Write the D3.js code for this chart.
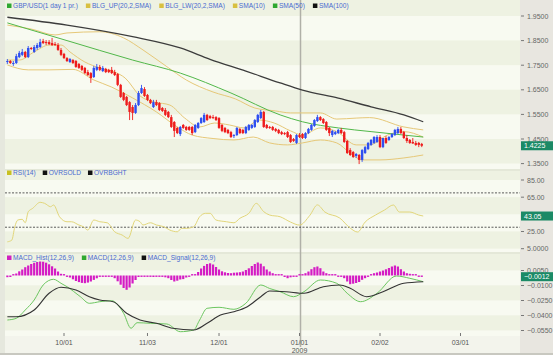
<!DOCTYPE html>
<html><head><meta charset="utf-8">
<script src="https://cdn.jsdelivr.net/npm/d3@7"></script>
<style>body{margin:0;background:#fff}svg{display:block}</style>
</head><body><svg id="c" width="553" height="355"></svg>
<script>
// ---------------- DATA ----------------
const firstIdx = -19; // bar index of first candle (0 = 10/01)
const openP = [1.763,1.767,1.755,1.759,1.783,1.792,1.804,1.783,1.820,1.804,1.820,1.824,1.848,1.844,1.844,1.840,1.836,1.832,1.812,
 1.796,1.779,1.763,1.771,1.767,1.755,1.747,1.739,1.722,1.718,
 1.702,1.731,1.743,1.726,1.735,1.731,1.731,1.722,1.714,1.670,
 1.637,1.621,1.600,1.580,1.556,1.588,1.637,1.653,1.629,1.609,
 1.580,1.600,1.596,1.576,1.568,1.560,1.539,1.519,1.495,1.470,
 1.507,1.499,1.499,1.499,1.478,1.495,1.515,1.519,1.548,1.543,
 1.539,1.539,1.535,1.507,1.495,1.487,1.478,1.462,1.466,1.491,
 1.487,1.474,1.487,1.495,1.499,1.519,1.535,1.560,1.507,1.499,
 1.499,1.491,1.487,1.478,1.474,1.478,1.466,1.450,1.434,1.466,
 1.470,1.454,1.474,1.487,1.503,1.523,1.539,1.531,1.519,1.495,
 1.466,1.470,1.474,1.487,1.478,1.442,1.405,1.397,1.381,1.385,
 1.365,1.393,1.409,1.426,1.434,1.438,1.458,1.417,1.454,1.446,
 1.458,1.466,1.474,1.491,1.478,1.454,1.446,1.438,1.434,1.434,
 1.430];
const highP = [1.775,1.771,1.767,1.796,1.808,1.816,1.808,1.828,1.824,1.832,1.840,1.857,1.857,1.852,1.852,1.861,1.844,1.840,1.820,
 1.800,1.783,1.779,1.775,1.771,1.759,1.751,1.743,1.731,1.722,
 1.747,1.755,1.751,1.747,1.739,1.735,1.743,1.731,1.718,1.674,
 1.641,1.625,1.604,1.588,1.596,1.645,1.670,1.661,1.633,1.613,
 1.609,1.609,1.600,1.580,1.576,1.564,1.548,1.523,1.499,1.503,
 1.511,1.503,1.503,1.503,1.511,1.519,1.539,1.556,1.552,1.548,
 1.548,1.543,1.539,1.511,1.499,1.491,1.483,1.470,1.499,1.495,
 1.491,1.503,1.511,1.511,1.531,1.552,1.568,1.564,1.511,1.503,
 1.503,1.495,1.491,1.483,1.478,1.483,1.470,1.454,1.470,1.474,
 1.474,1.478,1.495,1.511,1.531,1.548,1.543,1.535,1.523,1.499,
 1.487,1.483,1.491,1.495,1.483,1.446,1.413,1.401,1.393,1.389,
 1.409,1.422,1.438,1.450,1.462,1.466,1.466,1.454,1.462,1.462,
 1.474,1.491,1.499,1.499,1.483,1.466,1.450,1.454,1.442,1.438,
 1.434];
const lowP = [1.755,1.755,1.747,1.755,1.779,1.787,1.779,1.779,1.812,1.800,1.812,1.820,1.836,1.832,1.832,1.828,1.828,1.808,1.787,
 1.775,1.763,1.759,1.755,1.739,1.735,1.726,1.714,1.706,1.678,
 1.698,1.726,1.726,1.722,1.718,1.718,1.714,1.706,1.665,1.617,
 1.604,1.584,1.527,1.527,1.552,1.584,1.633,1.621,1.604,1.592,
 1.576,1.584,1.564,1.560,1.543,1.535,1.495,1.458,1.470,1.462,
 1.491,1.483,1.483,1.466,1.474,1.491,1.511,1.515,1.523,1.531,
 1.531,1.523,1.491,1.478,1.474,1.470,1.454,1.454,1.462,1.470,
 1.470,1.470,1.483,1.491,1.495,1.515,1.531,1.495,1.491,1.491,
 1.483,1.478,1.470,1.466,1.466,1.454,1.434,1.438,1.430,1.454,
 1.450,1.450,1.470,1.483,1.499,1.519,1.523,1.511,1.483,1.462,
 1.458,1.466,1.470,1.470,1.434,1.389,1.381,1.373,1.373,1.348,
 1.357,1.389,1.405,1.422,1.430,1.434,1.413,1.413,1.430,1.442,
 1.454,1.462,1.470,1.470,1.450,1.434,1.430,1.430,1.422,1.417,
 1.417];
const closeP = [1.767,1.759,1.759,1.787,1.800,1.804,1.783,1.820,1.816,1.824,1.832,1.844,1.840,1.840,1.836,1.832,1.832,1.812,1.792,
 1.779,1.767,1.775,1.759,1.743,1.739,1.731,1.718,1.710,1.698,
 1.739,1.743,1.731,1.739,1.722,1.722,1.718,1.710,1.670,1.621,
 1.609,1.588,1.560,1.556,1.588,1.637,1.657,1.625,1.609,1.596,
 1.600,1.588,1.568,1.564,1.548,1.539,1.499,1.483,1.474,1.499,
 1.495,1.487,1.487,1.474,1.507,1.515,1.535,1.548,1.527,1.535,
 1.535,1.527,1.495,1.483,1.478,1.474,1.458,1.466,1.495,1.474,
 1.474,1.499,1.507,1.507,1.527,1.548,1.560,1.499,1.495,1.495,
 1.487,1.483,1.474,1.470,1.470,1.458,1.438,1.442,1.466,1.458,
 1.454,1.474,1.491,1.507,1.527,1.539,1.527,1.515,1.487,1.474,
 1.483,1.478,1.487,1.474,1.438,1.393,1.385,1.377,1.389,1.365,
 1.405,1.417,1.434,1.446,1.458,1.458,1.417,1.454,1.434,1.458,
 1.470,1.487,1.491,1.474,1.454,1.442,1.434,1.432,1.426,1.426,
 1.4225];
const histV = [-0.0017,-0.0015,0.0005,0.0020,0.0042,0.0060,0.0083,0.0100,0.0115,0.0127,0.0135,0.0140,0.0138,0.0128,0.0112,0.0092,0.0070,0.0040,0.0017,
 0.0003,-0.0003,-0.0020,-0.0038,-0.0055,-0.0066,-0.0074,-0.0077,-0.0071,-0.0060,
 -0.0044,-0.0028,-0.0012,-0.0004,-0.0003,-0.0002,-0.0008,-0.0027,-0.0058,-0.0092,
 -0.0125,-0.0143,-0.0120,-0.0080,-0.0045,-0.0015,-0.0010,-0.0012,-0.0010,-0.0013,
 -0.0015,-0.0012,-0.0010,-0.0014,-0.0018,-0.0027,-0.0045,-0.0060,-0.0052,-0.0040,
 -0.0036,-0.0020,-0.0005,0.0002,0.0003,0.0035,0.0070,0.0096,0.0115,0.0122,
 0.0110,0.0085,0.0060,0.0042,0.0032,0.0025,0.0023,0.0028,0.0030,0.0033,
 0.0040,0.0055,0.0072,0.0095,0.0115,0.0130,0.0118,0.0092,0.0060,0.0040,
 0.0023,0.0013,0.0003,0.0002,-0.0015,-0.0027,-0.0018,-0.0010,-0.0004,0.0002,
 0.0008,0.0023,0.0040,0.0063,0.0083,0.0090,0.0073,0.0040,0.0023,0.0008,
 0.0003,0.0002,-0.0002,-0.0005,-0.0027,-0.0060,-0.0087,-0.0082,-0.0075,-0.0065,
 -0.0043,-0.0027,-0.0010,0.0013,0.0023,0.0030,0.0040,0.0050,0.0062,0.0075,
 0.0090,0.0100,0.0090,0.0063,0.0040,0.0023,0.0017,0.0008,0.0003,-0.0005,
 -0.0005];
// indicator lines sampled at bar indices
const sma100I = [-19,1,23,39,49,61,72.5,80,92,103,114,120.5];
const sma100V = [1.945,1.913,1.866,1.820,1.774,1.726,1.678,1.649,1.616,1.581,1.548,1.520];
const sma50I = [-19,1,23,39,56,72.5,80,92,103,114,120.5];
const sma50V = [1.922,1.850,1.771,1.718,1.637,1.548,1.520,1.495,1.480,1.466,1.458];
const bbUpI = [-19,-11,-3,1,12,20,26.5,34.5,41,50,57.5,64,71,76,86,91.5,98,102.5,114,120.5];
const bbUpV = [1.913,1.897,1.873,1.881,1.886,1.861,1.812,1.744,1.690,1.641,1.613,1.576,1.564,1.556,1.556,1.531,1.535,1.537,1.499,1.487];
const bbLwI = [-19,-12,-5,3,10,16,23,31,38,43,50,57,63.5,69,75,80,86,91.5,96,100,106,114,120.5];
const bbLwV = [1.751,1.731,1.731,1.733,1.690,1.661,1.617,1.560,1.499,1.466,1.452,1.446,1.458,1.434,1.426,1.434,1.446,1.434,1.393,1.365,1.365,1.373,1.385];
const sma10I = [-19,-15,-10,-5,-1,2,7,12,17,20.5,25.5,30.5,35.5,40.5,45.5,50.5,55.5,60.5,65.5,70.5,76,80,86,91.5,98,102.5,108.5,114,120.5];
const sma10V = [1.771,1.771,1.804,1.832,1.832,1.804,1.763,1.739,1.722,1.698,1.625,1.600,1.588,1.535,1.499,1.515,1.507,1.495,1.527,1.515,1.483,1.466,1.495,1.480,1.426,1.426,1.466,1.480,1.458];
const rsiI = [-19,-17.5,-16.5,-15.5,-14,-13,-12,-10.5,-8,-6.5,-4.5,-3.5,-1.5,1,2.5,5,6.5,8,10,12,14.5,17,19.5,21.5,24,25.5,26.5,29,31,33.5,35.5,38,39.5,41,43.5,45.5,47.5,49,51,54.5,57,59,62,64.5,67,69,72.5,76,79,82.5,85,87.5,92.5,96,98.5,101,104.5,107.5,110.5,112.5,116,119,120.5];
const rsiV = [13,15,30.6,38.4,39.2,35.2,48,52,59,57.8,53.9,55.9,42.2,36.4,36.4,32.6,30.6,26.7,38.4,36.4,35.2,24.7,20.9,17,38.4,36.4,32.6,35.2,32.6,30.6,26.7,24.7,28.7,28.7,30.6,42.2,46.2,46.2,38.4,36.4,35.2,40.4,46.2,57.8,48.1,44.2,42.2,36,32.5,44,56,47.7,40.7,29,24.4,36,44.2,50,55.9,47.7,47.7,44.2,43.05];
const macdI = [-19,-16,-13,-10,-7,-3.5,-1,1,5.5,8.5,12,16,20,22.5,24.5,29,34.5,39,43.5,45.5,48,52,57,61,66,69,72.5,77,80.5,86,91.5,95,99.5,105,111.5,116,120.5];
const macdV = [-0.0445,-0.0428,-0.0345,-0.0245,-0.0095,-0.0038,-0.0078,-0.0112,-0.0212,-0.0278,-0.0262,-0.0252,-0.0378,-0.0528,-0.0472,-0.0478,-0.0485,-0.0562,-0.0545,-0.0445,-0.0328,-0.0318,-0.0338,-0.0278,-0.0095,-0.0130,-0.0162,-0.0212,-0.0162,-0.0045,-0.0078,-0.0178,-0.0262,-0.0178,-0.0005,-0.0028,-0.0062];
const sigI = [-19,-16,-10,-5,-1,4,8.5,12,16.5,21,25.5,31,36.5,43.5,48,52.5,57,61.5,66,69,74.5,80.5,87,92.5,96,101.5,107,114,120.5];
const sigV = [-0.0412,-0.0412,-0.0345,-0.0178,-0.0118,-0.0145,-0.0212,-0.0245,-0.0262,-0.0378,-0.0445,-0.0478,-0.0528,-0.0545,-0.0478,-0.0395,-0.0362,-0.0312,-0.0212,-0.0155,-0.0162,-0.0178,-0.0112,-0.0095,-0.0128,-0.0212,-0.0162,-0.0078,-0.0062];
const xTickIdx = [0,28,52,79,106,133];
const xTickLbl = ["10/01","11/03","12/01","01/01","02/02","03/01"];
const yearIdx = 79, yearLbl = "2009";
const priceTicks = [1.95,1.85,1.75,1.65,1.55,1.45,1.35];
const rsiTicks = [85,65,25,5];
const rsiTickLbl = ["85.00","65.00","25.00","5.0000"];
const rsiBands = [85,65,45,25,5];
const rsiLevels = [70,30];
const macdTicks = [0.005,-0.01,-0.025,-0.04,-0.055];
const lastPrice = 1.4225, lastRsi = 43.05, lastMacd = -0.0012;
const legendMain = [["GBP/USD(1 day  1 pr.)","#2fa830"],["BLG_UP(20,2,SMA)","#d8c040"],["BLG_LW(20,2,SMA)","#d8c040"],["SMA(10)","#d8c040"],["SMA(50)","#2fa830"],["SMA(100)","#111"]];
const legendRsi = [["RSI(14)","#c8c020"],["OVRSOLD","#111"],["OVRBGHT","#111"]];
const legendMacd = [["MACD_Hist(12,26,9)","#d020c0"],["MACD(12,26,9)","#2fa830"],["MACD_Signal(12,26,9)","#111"]];

// ---------------- LAYOUT ----------------
const svg = d3.select("#c");
const W = 553, H = 355, L = 5, R = 520;
const FONT = "Liberation Sans, Arial, sans-serif";
const x = d3.scaleLinear().domain([0,106]).range([64,380]);
const yP = d3.scaleLinear().domain([1.35,1.95]).range([163.6,16]);
const yR = d3.scaleLinear().domain([5,85]).range([248.7,180]);
const yM = d3.scaleLinear().domain([-0.055,0.005]).range([330.5,270.5]);

svg.append("rect").attr("width",W).attr("height",H).attr("fill","#f2f4e8");
function stripes(scale, ticks, top, bottom){
  const b = [top].concat(ticks.map(t=>scale(t))).concat([bottom]);
  for(let k=0;k<b.length-1;k++){
    svg.append("rect").attr("x",L).attr("y",b[k]).attr("width",R-L).attr("height",b[k+1]-b[k])
      .attr("fill", k%2===0 ? "#eef2e2" : "#f8faf1");
  }
}
stripes(yP, priceTicks, 0, 170);
stripes(yR, rsiBands, 170, 253);
stripes(yM, macdTicks, 253, 336);
[170,253].forEach(v=>svg.append("rect").attr("x",L).attr("y",v-1).attr("width",R-L).attr("height",2).attr("fill","#e4e8d8"));
svg.append("rect").attr("x",R).attr("y",0).attr("width",W-R).attr("height",H).attr("fill","#e8e6e0");
svg.append("rect").attr("x",0).attr("y",0).attr("width",L).attr("height",H).attr("fill","#e6e8de");
svg.append("rect").attr("x",L).attr("y",336).attr("width",R-L).attr("height",H-336).attr("fill","#f3f4ec");
svg.append("rect").attr("x",0).attr("y",H-2).attr("width",W).attr("height",2).attr("fill","#c8c8c0");

svg.append("line").attr("x1",x(yearIdx)+1).attr("x2",x(yearIdx)+1).attr("y1",0).attr("y2",347)
  .attr("stroke","#b0b0a8").attr("stroke-width",1.5);

// ---------------- MAIN PANEL ----------------
const bars = openP.map((o,k)=>({i:firstIdx+k,o:o,h:highP[k],l:lowP[k],c:closeP[k]}));
const pts = (I,V)=>I.map((v,k)=>[v,V[k]]);
function drawLine(I,V,ys,color,w){
  svg.append("path").datum(pts(I,V)).attr("fill","none").attr("stroke",color).attr("stroke-width",w)
    .attr("d", d3.line().x(d=>x(d[0])).y(d=>ys(d[1])).curve(d3.curveMonotoneX));
}
drawLine(bbUpI,bbUpV,yP,"#e6c878",1);
drawLine(bbLwI,bbLwV,yP,"#e6c878",1);
drawLine(sma10I,sma10V,yP,"#e6c878",1);
drawLine(sma50I,sma50V,yP,"#52b84a",1);
drawLine(sma100I,sma100V,yP,"#3c3c3c",1.3);

const cg = svg.append("g");
bars.forEach(b=>{
  const col = b.c>=b.o ? "#2f4ff0" : "#ee1c1c";
  const cx = x(b.i);
  cg.append("line").attr("x1",cx).attr("x2",cx).attr("y1",yP(b.h)).attr("y2",yP(b.l)).attr("stroke",col).attr("stroke-width",0.9);
  const t = yP(Math.max(b.o,b.c)), bt = yP(Math.min(b.o,b.c));
  cg.append("rect").attr("x",cx-1.2).attr("y",t).attr("width",2.4).attr("height",Math.max(1,bt-t)).attr("fill",col);
});

// ---------------- RSI ----------------
rsiLevels.forEach(v=>svg.append("line").attr("x1",L).attr("x2",R).attr("y1",yR(v)).attr("y2",yR(v))
  .attr("stroke","#333").attr("stroke-width",0.8).attr("stroke-dasharray","2,1.5"));
drawLine(rsiI,rsiV,yR,"#e2d67a",1);

// ---------------- MACD ----------------
const hg = svg.append("g");
histV.forEach((v,k)=>{
  const cx = x(firstIdx+k), y0 = yM(0), y1 = yM(v);
  const h = Math.max(1.4, Math.abs(y1-y0));
  hg.append("rect").attr("x",cx-1.1).attr("y",v>=0?y0-h:y0).attr("width",2.2).attr("height",h).attr("fill","#d41cc4");
});
drawLine(macdI,macdV,yM,"#6cc660",1);
drawLine(sigI,sigV,yM,"#333",1.1);

// ---------------- AXES ----------------
function rightAxis(scale,ticks,labels){
  ticks.forEach((t,k)=>{
    const y = scale(t);
    svg.append("line").attr("x1",R+1).attr("x2",R+4).attr("y1",y).attr("y2",y).attr("stroke","#777");
    svg.append("text").attr("x",R+7).attr("y",y+2.5).attr("font-family",FONT).attr("font-size",7)
      .attr("fill","#666").text(labels[k]);
  });
}
rightAxis(yP, priceTicks, priceTicks.map(d3.format(".4f")));
rightAxis(yR, rsiTicks, rsiTickLbl);
rightAxis(yM, macdTicks, macdTicks.map(d3.format(".4f")));
function valueBox(y,txt){
  svg.append("rect").attr("x",R+1).attr("y",y-4.5).attr("width",W-R-1).attr("height",9).attr("fill","#1b8a66");
  svg.append("text").attr("x",R+4).attr("y",y+2.5).attr("font-family",FONT).attr("font-size",7).attr("fill","#fff").text(txt);
}
valueBox(yP(lastPrice), d3.format(".4f")(lastPrice));
valueBox(yR(lastRsi), d3.format(".2f")(lastRsi));
valueBox(yM(lastMacd), d3.format(".4f")(lastMacd));

xTickIdx.forEach((t,k)=>{
  const cx = x(t);
  svg.append("line").attr("x1",cx).attr("x2",cx).attr("y1",333).attr("y2",336).attr("stroke","#777");
  svg.append("text").attr("x",cx).attr("y",345).attr("text-anchor","middle").attr("font-family",FONT)
    .attr("font-size",7).attr("fill","#555").text(xTickLbl[k]);
});
svg.append("text").attr("x",x(yearIdx)).attr("y",353).attr("text-anchor","middle").attr("font-family",FONT)
  .attr("font-size",7).attr("fill","#555").text(yearLbl);

// ---------------- LEGENDS ----------------
function legend(items,y,gap){
  let cx = 7;
  items.forEach(([lbl,col])=>{
    svg.append("rect").attr("x",cx).attr("y",y-4.5).attr("width",4.5).attr("height",4.5).attr("fill",col);
    const t = svg.append("text").attr("x",cx+6).attr("y",y).attr("font-family",FONT).attr("font-size",6.6)
      .attr("fill","#4a6ad0").text(lbl);
    cx += 6 + t.node().getComputedTextLength() + gap;
  });
}
legend(legendMain,8,8);
legend(legendRsi,175,7);
legend(legendMacd,260,8);
</script></body></html>
